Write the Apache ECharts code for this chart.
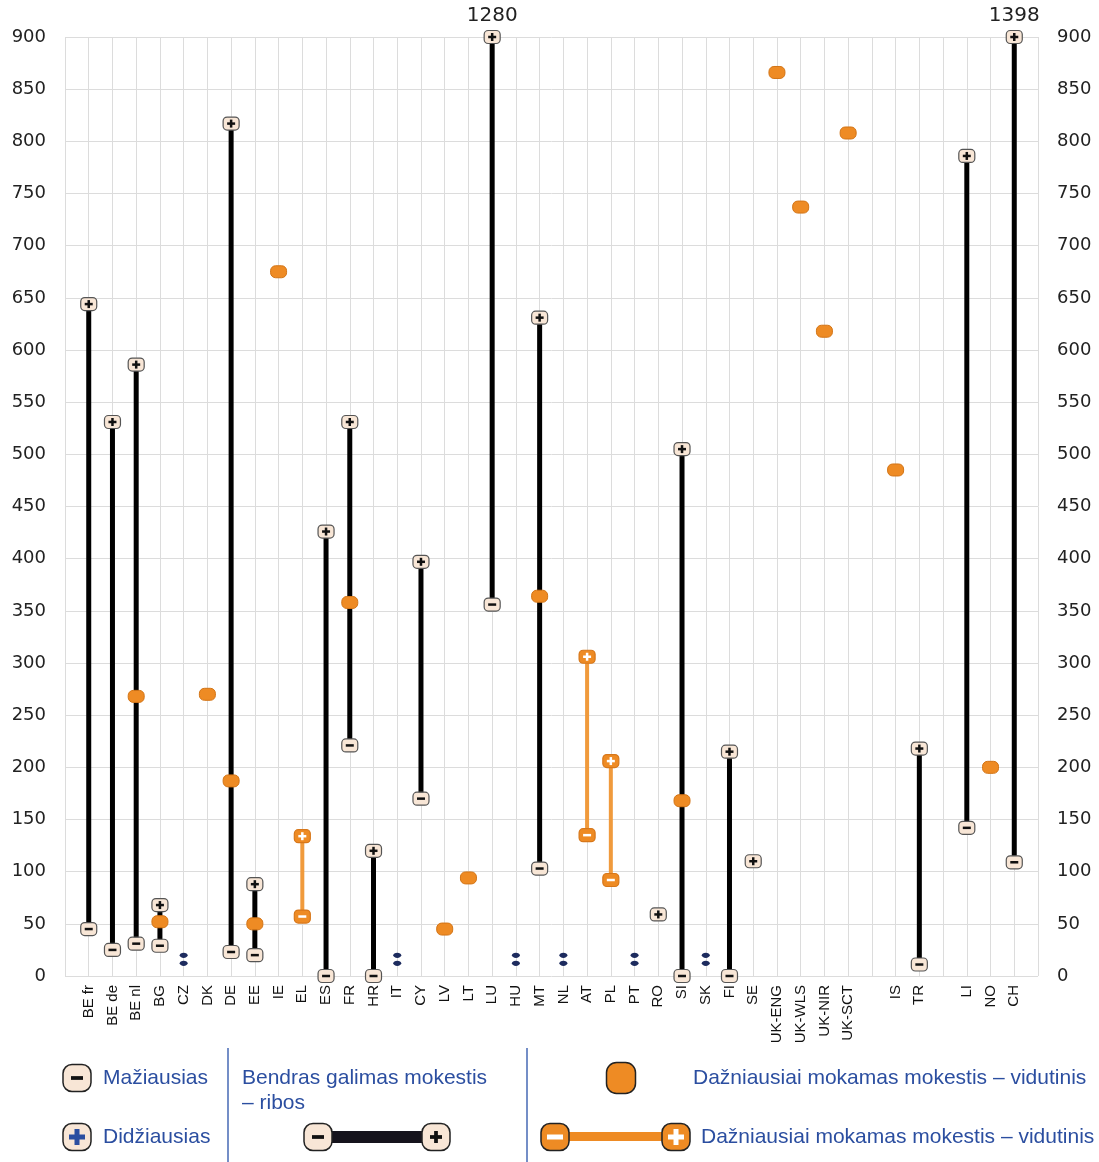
<!DOCTYPE html>
<html>
<head>
<meta charset="utf-8">
<script src="https://cdn.jsdelivr.net/npm/echarts@6/dist/echarts.min.js"></script>
<style>
  html, body { margin: 0; padding: 0; background: #fff; }
  #chart { width: 1099px; height: 1162px; }
</style>
</head>
<body>
<div id="chart"></div>
<script>
// x positions; blank entries are the spacer columns
const categories = [' ', 'BE fr', 'BE de', 'BE nl', 'BG', 'CZ', 'DK', 'DE', 'EE', 'IE', 'EL', 'ES', 'FR', 'HR', 'IT',
  'CY', 'LV', 'LT', 'LU', 'HU', 'MT', 'NL', 'AT', 'PL', 'PT', 'RO', 'SI', 'SK', 'FI', 'SE',
  'UK-ENG', 'UK-WLS', 'UK-NIR', 'UK-SCT', '  ', 'IS', 'TR', '   ', 'LI', 'NO', 'CH', '    ']

const yTicks = { min: 0, max: 900, step: 50 }

// total possible fee: [country, min, max]
const totalRange = [
  ['BE fr', 45, 644], ['BE de', 25, 531], ['BE nl', 31, 586], ['BG', 29, 68], ['DE', 23, 817],
  ['EE', 20, 88], ['ES', 0, 426], ['FR', 221, 531], ['HR', 0, 120], ['CY', 170, 397],
  ['LU', 356, 1280], ['MT', 103, 631], ['SI', 0, 505], ['FI', 0, 215], ['TR', 11, 218],
  ['LI', 142, 786], ['CH', 109, 1398],
]
// only a maximum shown
const maxOnly = [['RO', 59], ['SE', 110]]
// most commonly paid fee, range: [country, min, max]
const typicalRange = [['EL', 57, 134], ['AT', 135, 306], ['PL', 92, 206]]
// most commonly paid fee, average
const typicalAvg = [
  ['BE nl', 268], ['BG', 52], ['DK', 270], ['DE', 187], ['EE', 50], ['IE', 675], ['FR', 358],
  ['LV', 45], ['LT', 94], ['MT', 364], ['SI', 168], ['UK-ENG', 866], ['UK-WLS', 737],
  ['UK-NIR', 618], ['UK-SCT', 808], ['IS', 485], ['NO', 200],
]
// no fee markers
const noFee = [['CZ', 16], ['IT', 16], ['HU', 16], ['NL', 16], ['PT', 16], ['SK', 16]]

const ORANGE = '#ee8b24'
const CREAM = '#f8e6d6'
const BLUE = '#2b4ea0'

function badge(cx, cy, kind, opt) {
  const o = Object.assign({ w: 16, h: 13, r: 4, fill: CREAM, stroke: '#555', glyph: '#111', lw: 1.2, g: 1 }, opt || {})
  const out = [{
    type: 'rect',
    shape: { x: cx - o.w / 2, y: cy - o.h / 2, width: o.w, height: o.h, r: o.r },
    style: { fill: o.fill, stroke: o.stroke, lineWidth: o.lw },
  }]
  if (kind === 'dot') return out
  const bw = 8 * o.g, bh = 2.5 * o.g
  out.push({ type: 'rect', shape: { x: cx - bw / 2, y: cy - bh / 2, width: bw, height: bh }, style: { fill: o.glyph } })
  if (kind === 'max') {
    out.push({ type: 'rect', shape: { x: cx - bh / 2, y: cy - bw / 2, width: bh, height: bw }, style: { fill: o.glyph } })
  }
  return out
}

function rangeRenderer(isOrange) {
  return function (params, api) {
    const top = Math.min(api.value(2), yTicks.max)
    const p0 = api.coord([api.value(0), api.value(1)])
    const p1 = api.coord([api.value(0), top])
    const children = [{
      type: 'line',
      shape: { x1: p0[0], y1: p0[1], x2: p1[0], y2: p1[1] },
      style: { stroke: isOrange ? '#f09a3c' : '#000', lineWidth: isOrange ? 4 : 5 },
    }]
    const opt = isOrange ? { fill: ORANGE, stroke: '#d7771a', glyph: '#fff' } : null
    children.push(...badge(p0[0], p0[1], 'min', opt))
    children.push(...badge(p1[0], p1[1], 'max', opt))
    if (api.value(2) > yTicks.max) {
      children.push({
        type: 'text',
        style: {
          x: p1[0], y: p1[1] - 11, text: String(api.value(2)), align: 'center', verticalAlign: 'bottom',
          font: '20px "DejaVu Sans"', fill: '#222',
        },
      })
    }
    return { type: 'group', children }
  }
}

const chart = echarts.init(document.getElementById('chart'))

const graphic = []
function g(el) { graphic.push(el) }
function legendText(x, y, text) {
  g({ type: 'text', x, y, style: { text, font: '21px "Liberation Sans"', fill: BLUE, verticalAlign: 'middle' } })
}
function pushBadge(list) {
  list.forEach((el) => g(el))
}
// separators
g({ type: 'line', shape: { x1: 228, y1: 1048, x2: 228, y2: 1162 }, style: { stroke: '#4668b4', lineWidth: 1.5 } })
g({ type: 'line', shape: { x1: 527, y1: 1048, x2: 527, y2: 1162 }, style: { stroke: '#4668b4', lineWidth: 1.5 } })
const big = { w: 28, h: 27, r: 9, stroke: '#222', lw: 1.5, g: 1.5 }
pushBadge(badge(77, 1078, 'min', big))
legendText(103, 1078, 'Mažiausias')
pushBadge(badge(77, 1137, 'max', Object.assign({}, big, { glyph: BLUE, g: 2 })))
legendText(103, 1137, 'Didžiausias')
legendText(242, 1078, 'Bendras galimas mokestis')
legendText(242, 1103, '– ribos')
g({ type: 'rect', shape: { x: 318, y: 1131, width: 118, height: 12 }, style: { fill: '#15131c' } })
pushBadge(badge(318, 1137, 'min', big))
pushBadge(badge(436, 1137, 'max', big))
pushBadge(badge(621, 1078, 'dot', { w: 29, h: 31, r: 10, fill: ORANGE, stroke: '#222', lw: 1.5 }))
legendText(693, 1078, 'Dažniausiai mokamas mokestis – vidutinis')
g({ type: 'rect', shape: { x: 555, y: 1132, width: 121, height: 9 }, style: { fill: ORANGE } })
const bigOrange = Object.assign({}, big, { fill: ORANGE, glyph: '#fff', g: 2 })
pushBadge(badge(555, 1137, 'min', bigOrange))
pushBadge(badge(676, 1137, 'max', bigOrange))
legendText(701, 1137, 'Dažniausiai mokamas mokestis – vidutinis')

const yAxisBase = {
  type: 'value',
  min: yTicks.min,
  max: yTicks.max,
  interval: yTicks.step,
  axisLine: { show: false },
  axisTick: { show: false },
  axisLabel: { color: '#222', fontSize: 18, fontFamily: 'DejaVu Sans', margin: 19 },
}

chart.setOption({
  animation: false,
  grid: { left: 65, right: 61, top: 37, bottom: 186 },
  graphic,
  xAxis: {
    type: 'category',
    data: categories,
    boundaryGap: false,
    axisLine: { show: false },
    axisTick: { show: false },
    splitLine: { show: true, lineStyle: { color: '#dcdcdc', width: 1 } },
    axisLabel: {
      interval: 0,
      rotate: 90,
      margin: 9,
      color: '#111',
      fontSize: 15,
      fontFamily: 'Liberation Sans',
      formatter: (v) => v.trim(),
    },
  },
  yAxis: [
    Object.assign({}, yAxisBase, { position: 'left', splitLine: { lineStyle: { color: '#dcdcdc' } } }),
    Object.assign({}, yAxisBase, { position: 'right', splitLine: { show: false } }),
  ],
  series: [
    {
      type: 'custom',
      name: 'Bendras galimas mokestis',
      clip: false,
      encode: { x: 0, y: [1, 2] },
      data: totalRange,
      renderItem: rangeRenderer(false),
      z: 3,
    },
    {
      type: 'custom',
      name: 'Dažniausiai mokamas (ribos)',
      clip: false,
      encode: { x: 0, y: [1, 2] },
      data: typicalRange,
      renderItem: rangeRenderer(true),
      z: 3,
    },
    {
      type: 'custom',
      name: 'Didžiausias',
      encode: { x: 0, y: 1 },
      data: maxOnly,
      renderItem: (params, api) => {
        const p = api.coord([api.value(0), api.value(1)])
        return { type: 'group', children: badge(p[0], p[1], 'max') }
      },
      z: 3,
    },
    {
      type: 'custom',
      name: 'Dažniausiai mokamas – vidutinis',
      encode: { x: 0, y: 1 },
      data: typicalAvg,
      renderItem: (params, api) => {
        const p = api.coord([api.value(0), api.value(1)])
        return { type: 'group', children: badge(p[0], p[1], 'dot', { w: 16, h: 12, r: 5, fill: ORANGE, stroke: '#d27416', lw: 1 }) }
      },
      z: 4,
    },
    {
      type: 'custom',
      name: 'Nėra',
      encode: { x: 0, y: 1 },
      data: noFee,
      renderItem: (params, api) => {
        const p = api.coord([api.value(0), api.value(1)])
        const dot = (dy) => ({
          type: 'ellipse',
          shape: { cx: p[0], cy: p[1] + dy, rx: 4, ry: 2.6 },
          style: { fill: '#1d2b5e' },
        })
        return { type: 'group', children: [dot(-4), dot(4)] }
      },
      z: 3,
    },
  ],
})
</script>
</body>
</html>
